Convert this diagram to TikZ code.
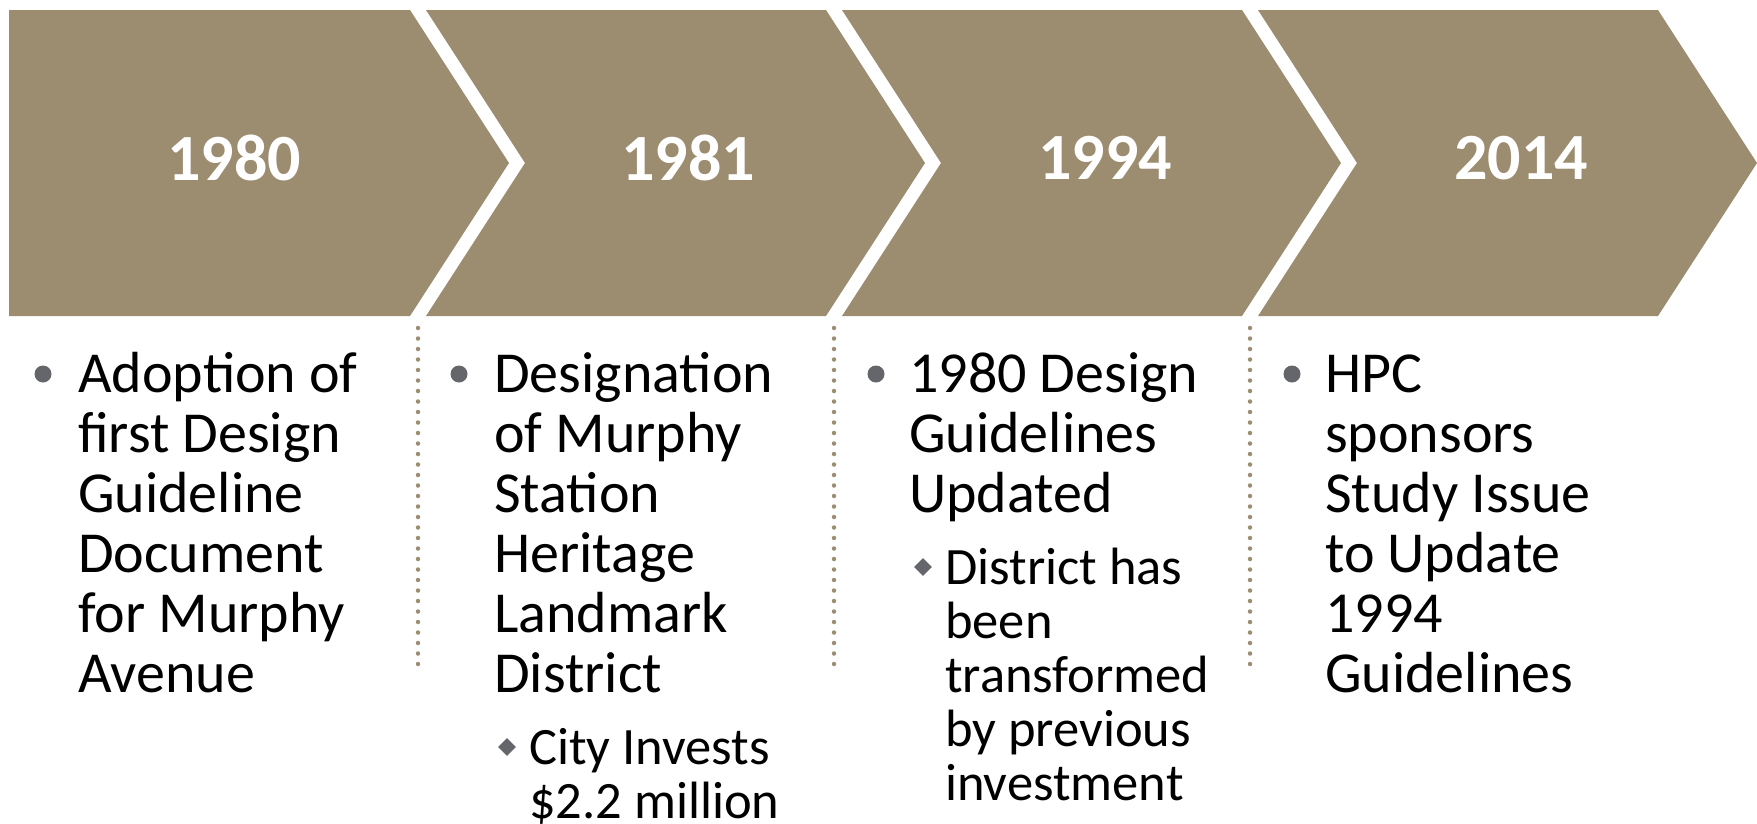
\documentclass[tikz,border=0pt]{standalone}
\usepackage{fontspec}
\setmainfont{Carlito}
\usetikzlibrary{shapes.geometric}
\definecolor{chevtan}{HTML}{9C8C70}
\definecolor{bulgray}{HTML}{65666B}
\newcommand\maintext{\fontsize{58}{60}\selectfont\lineskiplimit=-100pt }
\newcommand\subtext{\fontsize{52.5}{54}\selectfont\lineskiplimit=-100pt }
\tikzset{
  chev/.style={fill=chevtan},
  year/.style={font=\fontsize{66}{66}\selectfont\bfseries, text=white, inner sep=0pt},
  dot/.style={circle, fill=bulgray, minimum size=17pt, inner sep=0pt},
  diam/.style={diamond, aspect=1, fill=bulgray, minimum width=18pt, minimum height=18pt, inner sep=0pt},
  body/.style={anchor=base west, inner sep=0pt, text=black},
  sep/.style={draw=chevtan, line width=4.5pt, line cap=round, dash pattern=on 0pt off 10.5pt}
}
\begin{document}
\begin{tikzpicture}[x=1pt,y=-1pt]
\useasboundingbox (0,0) rectangle (1757,823);
% chevrons
\fill[chev] (9,10) -- (410,10) -- (509,163) -- (410,316) -- (9,316) -- cycle;
\fill[chev] (426,10) -- (826,10) -- (925,163) -- (826,316) -- (426,316) -- (525,163) -- cycle;
\fill[chev] (842,10) -- (1242,10) -- (1341,163) -- (1242,316) -- (842,316) -- (941,163) -- cycle;
\fill[chev] (1258,10) -- (1658,10) -- (1757,163) -- (1658,316) -- (1258,316) -- (1357,163) -- cycle;
% years
\node[year] (y1) at (234,158) {1980};
\node[year] (y2) at (688,158) {1981};
\node[year] (y3) at (1105,158) {1994};
\node[year] (y4) at (1521,158) {2014};
% separators
\coordinate (s1t) at (418,328); \coordinate (s1b) at (418,672);
\coordinate (s2t) at (834,328); \coordinate (s2b) at (834,672);
\coordinate (s3t) at (1250,328); \coordinate (s3b) at (1250,672);
\draw[sep] (s1t) -- (s1b);
\draw[sep] (s2t) -- (s2b);
\draw[sep] (s3t) -- (s3b);
% column 1
\node[dot] (b1) at (43,374) {};
\node[body] (t1) at (78,392) {\maintext\vtop{\hbox{Adoption of}\hbox{first Design}\hbox{Guideline}\hbox{Document}\hbox{for Murphy}\hbox{Avenue}}};
% column 2
\node[dot] (b2) at (459,374) {};
\node[body] (t2) at (494,392) {\maintext\vtop{\hbox{Designation}\hbox{of Murphy}\hbox{Station}\hbox{Heritage}\hbox{Landmark}\hbox{District}}};
\node[diam] (d2) at (507,747) {};
\node[body] (u2) at (529,764) {\subtext\vtop{\hbox{City Invests}\hbox{\$2.2 million}}};
% column 3
\node[dot] (b3) at (876,374) {};
\node[body] (t3) at (909,392) {\maintext\vtop{\hbox{1980 Design}\hbox{Guidelines}\hbox{Updated}}};
\node[diam] (d3) at (923,567) {};
\node[body] (u3) at (945,584) {\subtext\vtop{\hbox{District has}\hbox{been}\hbox{transformed}\hbox{by previous}\hbox{investment}}};
% column 4
\node[dot] (b4) at (1292,374) {};
\node[body] (t4) at (1325,392) {\maintext\vtop{\hbox{HPC}\hbox{sponsors}\hbox{Study Issue}\hbox{to Update}\hbox{1994}\hbox{Guidelines}}};
\end{tikzpicture}
\end{document}
